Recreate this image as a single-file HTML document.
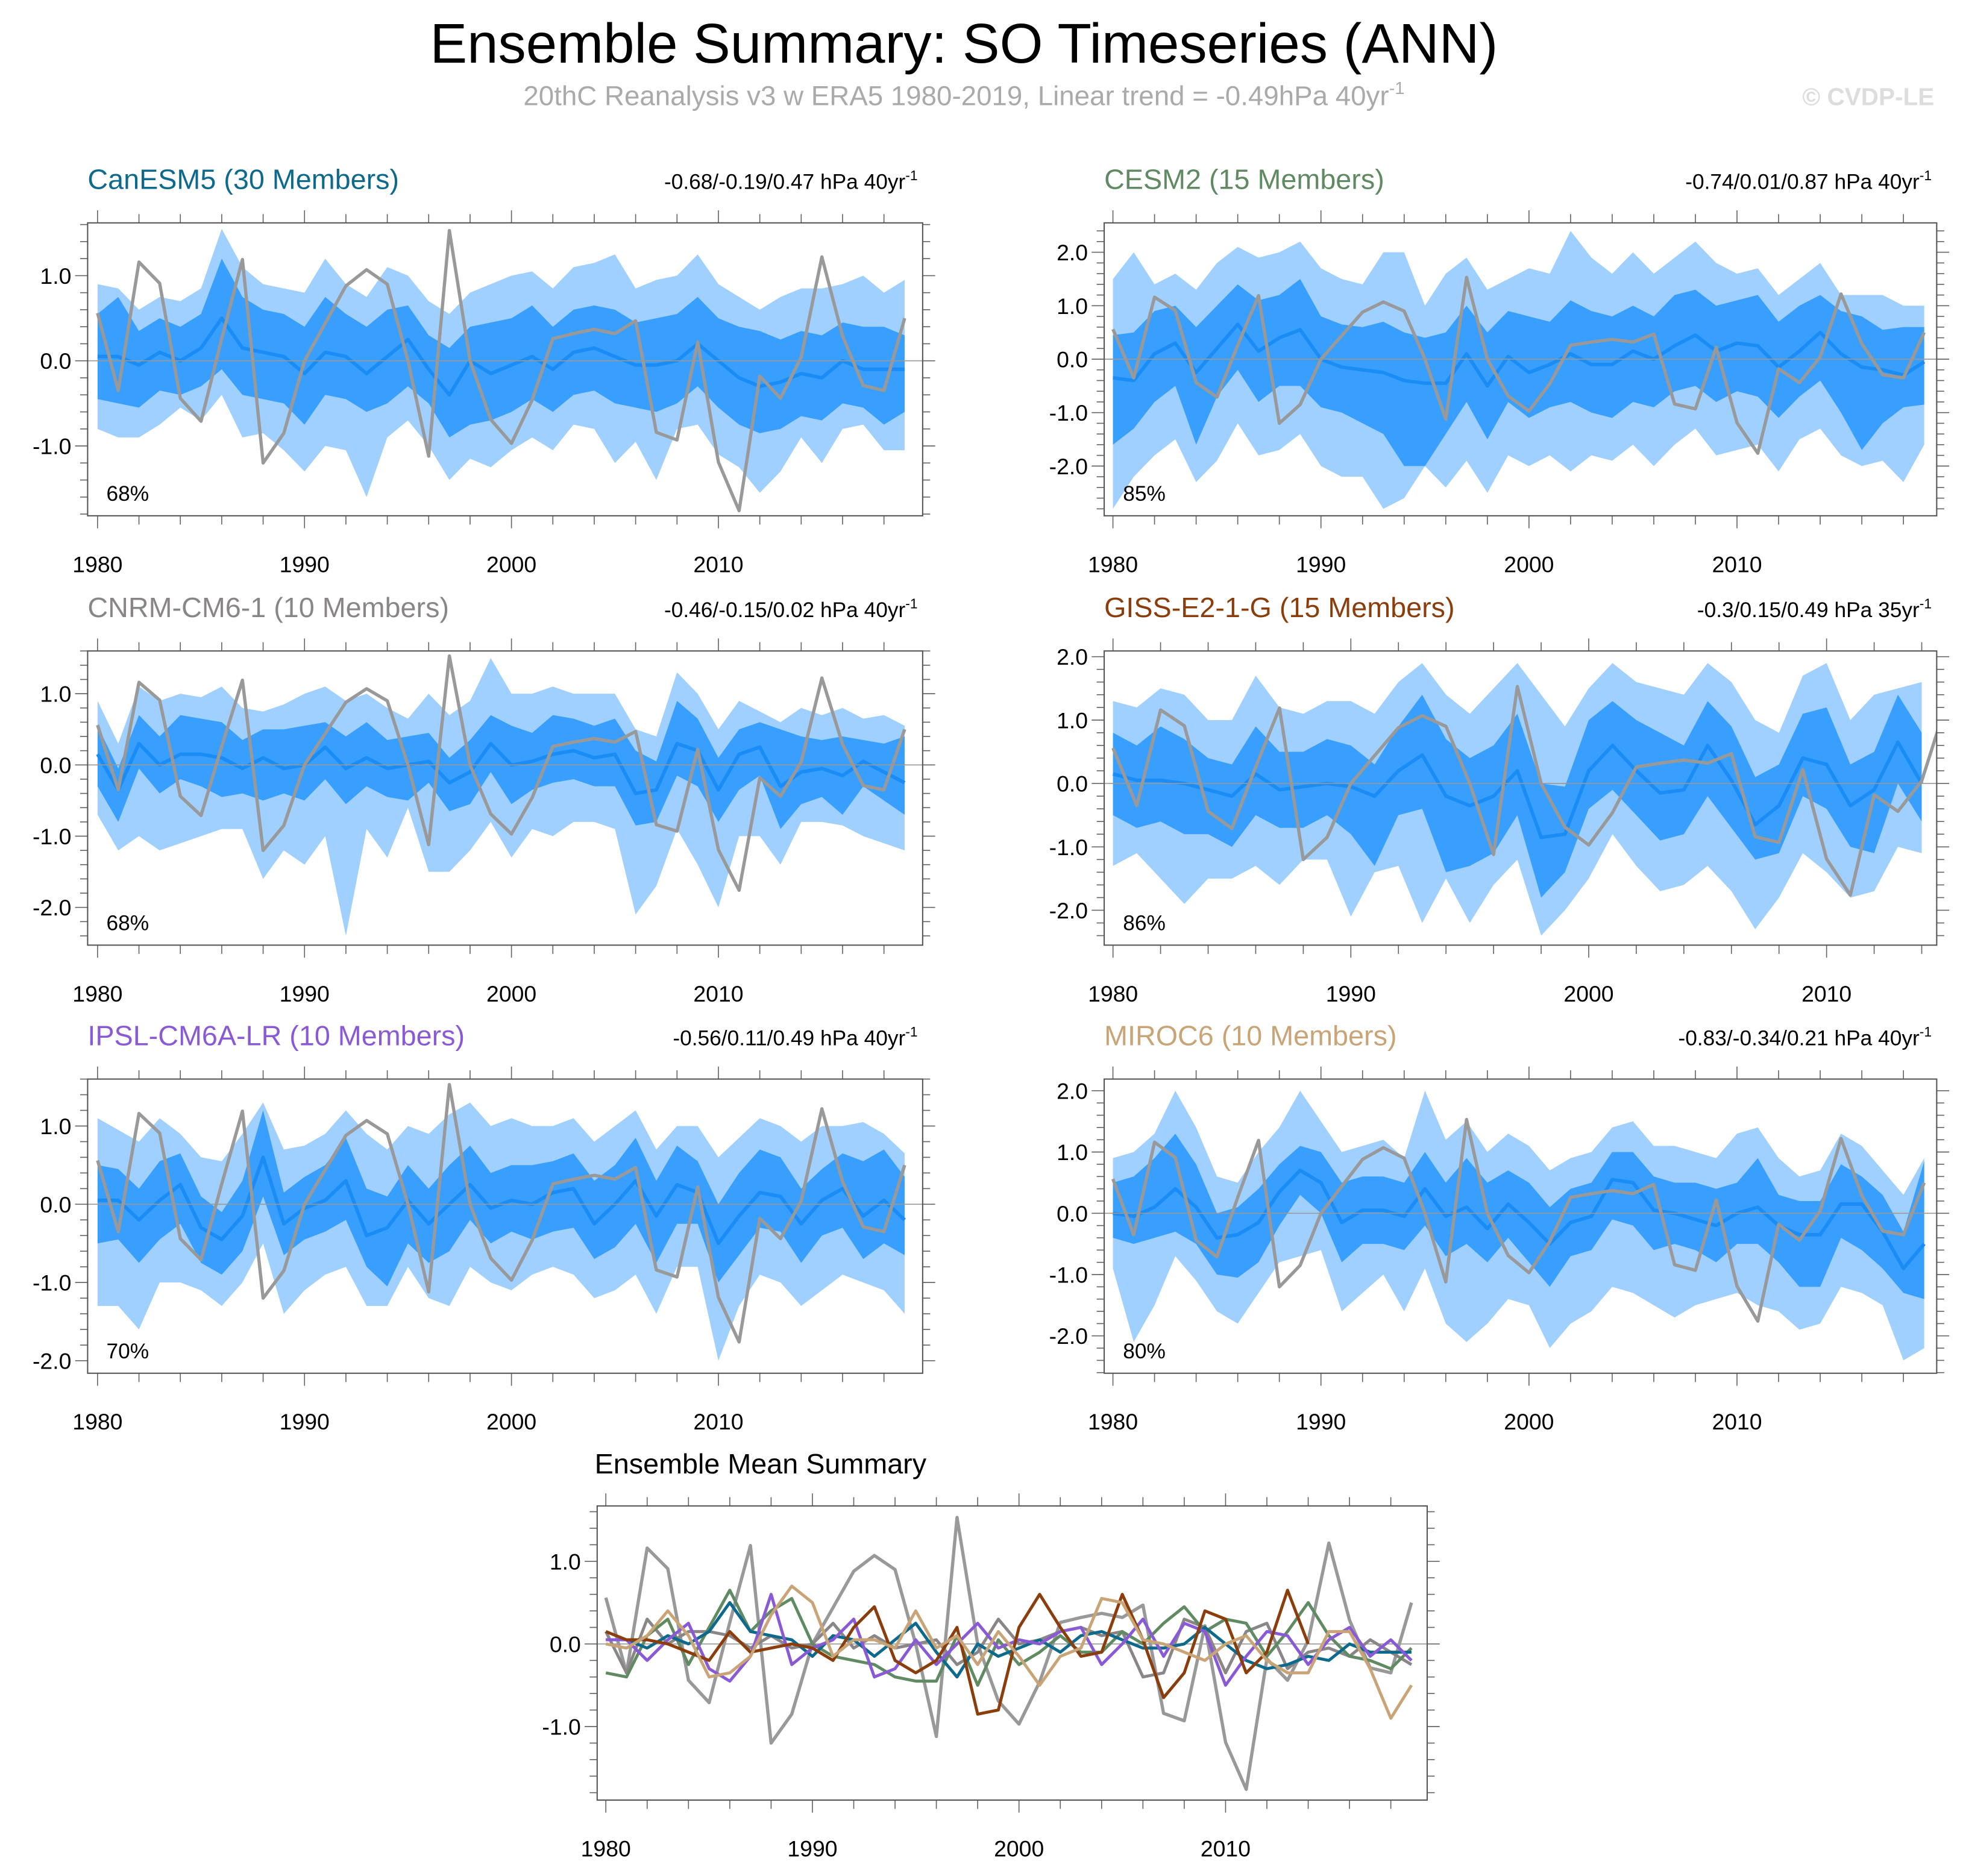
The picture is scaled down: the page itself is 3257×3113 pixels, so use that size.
<!DOCTYPE html>
<html><head><meta charset="utf-8">
<style>html,body{margin:0;padding:0;background:#fff;}svg{display:block;}text{font-family:"Liberation Sans",Arial,sans-serif;}</style>
</head><body>
<svg id="chart" width="3257" height="3113" viewBox="0 0 1568 1498.6" xmlns="http://www.w3.org/2000/svg">
<rect x="0" y="0" width="1568" height="1498.6" fill="#fff"/>
<text x="770" y="50" font-size="44.5" text-anchor="middle" fill="#000">Ensemble Summary: SO Timeseries (ANN)</text>
<text x="770" y="84" font-size="22" text-anchor="middle" fill="#aaa">20thC Reanalysis v3 w ERA5 1980-2019, Linear trend = -0.49hPa 40yr<tspan font-size="14" dy="-9">-1</tspan></text>
<text x="1545" y="84" font-size="19.5" font-weight="bold" text-anchor="end" fill="#ddd">© CVDP-LE</text>
<g id="plots"></g>
</svg>
<script>
const obs = [0.56,-0.35,1.16,0.91,-0.44,-0.71,0.26,1.19,-1.2,-0.85,0.0,0.44,0.88,1.07,0.9,0.0,-1.12,1.53,0.0,-0.69,-0.97,-0.46,0.26,0.32,0.37,0.32,0.47,-0.84,-0.93,0.22,-1.19,-1.76,-0.18,-0.44,0.04,1.22,0.29,-0.29,-0.35,0.5];

const canMean = [0.05,0.05,-0.05,0.1,0.0,0.15,0.5,0.15,0.1,0.05,-0.15,0.1,0.05,-0.15,0.05,0.25,-0.1,-0.4,0.0,-0.15,-0.05,0.05,-0.1,0.1,0.15,0.05,-0.05,-0.05,0.0,0.2,0.0,-0.2,-0.3,-0.25,-0.15,-0.2,0.0,-0.1,-0.1,-0.1];
const canDhi = [0.55,0.75,0.35,0.5,0.4,0.55,1.2,0.75,0.6,0.55,0.4,0.75,0.55,0.4,0.6,0.65,0.3,0.15,0.4,0.45,0.5,0.65,0.4,0.6,0.65,0.6,0.45,0.5,0.55,0.75,0.5,0.4,0.35,0.25,0.35,0.3,0.45,0.4,0.4,0.3];
const canDlo = [-0.45,-0.5,-0.55,-0.35,-0.4,-0.3,-0.1,-0.4,-0.45,-0.5,-0.75,-0.4,-0.45,-0.6,-0.5,-0.3,-0.5,-0.9,-0.75,-0.7,-0.6,-0.45,-0.6,-0.4,-0.35,-0.5,-0.55,-0.6,-0.5,-0.3,-0.55,-0.75,-0.85,-0.8,-0.65,-0.7,-0.5,-0.55,-0.75,-0.6];
const canLhi = [0.9,0.85,0.6,0.75,0.7,0.85,1.55,1.1,0.9,0.85,0.8,1.2,0.9,0.75,1.1,1.0,0.7,0.55,0.8,0.9,1.0,1.05,0.85,1.1,1.15,1.25,0.85,0.95,1.0,1.25,0.9,0.75,0.6,0.75,0.85,0.85,0.9,1.0,0.8,0.95];
const canLlo = [-0.8,-0.9,-0.9,-0.75,-0.55,-0.7,-0.4,-0.9,-0.85,-1.05,-1.3,-1.0,-1.05,-1.6,-0.9,-0.7,-1.0,-1.4,-1.15,-1.25,-1.05,-0.9,-1.05,-0.75,-0.8,-1.2,-0.95,-1.4,-0.8,-0.75,-1.1,-1.25,-1.55,-1.3,-0.9,-1.2,-0.8,-0.75,-1.05,-1.05];

const cesmMean = [-0.35,-0.4,0.1,0.3,-0.25,0.2,0.65,0.15,0.4,0.55,0.0,-0.15,-0.2,-0.25,-0.4,-0.45,-0.45,0.1,-0.5,0.05,-0.25,-0.1,0.1,-0.1,-0.1,0.15,0.0,0.25,0.45,0.15,0.3,0.25,-0.15,0.15,0.5,0.1,-0.15,-0.2,-0.3,-0.05];
const cesmDhi = [0.45,0.5,0.9,1.0,0.6,1.0,1.4,1.1,1.2,1.5,0.8,0.65,0.6,0.7,0.5,0.4,0.5,1.0,0.5,0.9,0.8,0.7,1.1,0.9,0.8,1.0,0.8,1.2,1.3,1.0,1.1,1.2,0.7,1.0,1.2,0.9,0.8,0.55,0.6,0.6];
const cesmDlo = [-1.6,-1.3,-0.8,-0.5,-1.6,-0.7,-0.2,-0.8,-0.5,-0.5,-0.9,-1.0,-1.2,-1.4,-2.0,-2.0,-1.4,-0.8,-1.5,-0.8,-1.1,-0.9,-0.8,-1.0,-1.1,-0.8,-0.9,-0.6,-0.5,-0.8,-0.6,-0.7,-1.1,-0.7,-0.4,-1.0,-1.7,-1.2,-0.9,-0.85];
const cesmLhi = [1.5,2.0,1.4,1.6,1.3,1.8,2.1,1.9,2.0,2.2,1.7,1.5,1.4,2.0,2.0,1.0,1.6,1.9,1.3,1.5,1.7,1.6,2.4,1.9,1.6,2.0,1.6,1.9,2.2,1.8,1.6,1.7,1.2,1.5,1.8,1.2,1.2,1.2,1.0,1.0];
const cesmLlo = [-2.8,-2.2,-1.8,-1.5,-2.3,-1.9,-1.2,-1.8,-1.7,-1.4,-2.0,-2.2,-2.2,-2.8,-2.6,-2.0,-2.4,-1.9,-2.5,-1.8,-2.0,-1.8,-2.1,-1.8,-1.9,-1.6,-2.0,-1.6,-1.3,-1.8,-1.7,-1.6,-2.1,-1.5,-1.3,-1.8,-2.0,-1.9,-2.3,-1.6];

const cnrmMean = [0.15,-0.35,0.3,0.0,0.15,0.15,0.1,-0.05,0.1,-0.05,0.0,0.25,-0.05,0.1,-0.05,0.0,0.05,-0.25,-0.1,0.3,0.0,0.05,0.15,0.2,0.1,0.15,-0.4,-0.35,0.3,0.2,-0.35,0.15,0.25,-0.3,-0.1,-0.05,-0.15,0.05,-0.1,-0.25];
const cnrmDhi = [0.55,-0.05,0.7,0.4,0.7,0.65,0.6,0.35,0.5,0.5,0.55,0.6,0.4,0.6,0.35,0.4,0.45,0.1,0.35,0.7,0.55,0.45,0.7,0.65,0.55,0.65,0.2,0.05,0.9,0.65,0.1,0.5,0.6,0.5,0.4,0.35,0.4,0.35,0.3,0.4];
const cnrmDlo = [-0.3,-0.8,-0.05,-0.4,-0.2,-0.3,-0.45,-0.4,-0.5,-0.4,-0.5,-0.2,-0.55,-0.3,-0.45,-0.5,-0.25,-0.65,-0.55,-0.1,-0.55,-0.35,-0.25,-0.2,-0.3,-0.3,-0.85,-0.8,-0.15,-0.3,-0.8,-0.35,-0.15,-0.9,-0.55,-0.45,-0.7,-0.3,-0.5,-0.7];
const cnrmLhi = [0.9,0.3,1.1,0.9,1.0,0.95,1.1,0.8,0.75,0.85,1.0,1.1,0.9,1.0,0.8,0.65,1.0,0.7,0.9,1.5,1.0,1.0,1.1,1.0,1.0,1.0,0.5,0.4,1.3,1.0,0.5,0.9,0.75,0.6,0.8,0.7,0.8,0.65,0.7,0.55];
const cnrmLlo = [-0.7,-1.2,-1.0,-1.2,-1.1,-1.0,-0.9,-0.9,-1.6,-1.2,-1.4,-1.0,-2.4,-0.9,-1.3,-0.6,-1.5,-1.5,-1.2,-0.8,-1.3,-0.9,-1.0,-0.8,-0.8,-0.9,-2.1,-1.7,-0.9,-1.4,-2.0,-1.0,-1.0,-1.4,-0.8,-0.8,-0.85,-1.0,-1.1,-1.2];

const gissMean = [0.15,0.05,0.05,0.0,-0.1,-0.2,0.15,-0.1,-0.05,0.0,-0.05,-0.2,0.2,0.45,-0.2,-0.35,-0.2,0.2,-0.85,-0.8,0.2,0.6,0.2,-0.15,-0.1,0.6,0.05,-0.65,-0.35,0.4,0.3,-0.35,-0.1,0.65,0.0];
const gissDhi = [0.8,0.6,0.9,0.7,0.4,0.3,0.9,0.5,0.5,0.7,0.6,0.3,0.9,1.4,0.7,0.4,0.6,1.1,0.0,-0.05,1.0,1.3,1.0,0.8,0.6,1.3,0.9,0.1,0.3,1.1,1.2,0.3,0.5,1.4,0.8];
const gissDlo = [-0.5,-0.7,-0.6,-0.8,-0.8,-1.0,-0.5,-0.7,-0.7,-0.5,-0.8,-1.3,-0.5,-0.4,-1.4,-1.3,-1.1,-0.5,-1.8,-1.4,-0.4,-0.1,-0.5,-0.9,-0.8,-0.2,-0.7,-1.2,-1.1,-0.2,-0.4,-1.0,-1.1,0.0,-0.6];
const gissLhi = [1.3,1.2,1.5,1.4,1.0,1.0,1.7,1.2,1.1,1.3,1.3,1.1,1.6,1.9,1.4,1.1,1.5,1.9,1.4,0.9,1.5,1.9,1.6,1.5,1.4,1.9,1.6,1.0,0.8,1.7,1.9,1.0,1.4,1.5,1.6];
const gissLlo = [-1.3,-1.1,-1.5,-1.9,-1.5,-1.5,-1.3,-1.6,-1.2,-1.2,-2.1,-1.4,-1.3,-2.2,-1.5,-2.2,-1.6,-1.2,-2.4,-2.0,-1.5,-0.8,-1.3,-1.7,-1.6,-1.3,-1.7,-2.3,-1.8,-1.1,-1.4,-1.8,-1.7,-1.0,-1.1];

const ipslMean = [0.05,0.05,-0.2,0.05,0.25,-0.3,-0.45,-0.15,0.6,-0.25,-0.05,0.05,0.3,-0.4,-0.3,0.05,-0.25,0.0,0.25,-0.05,0.05,0.0,0.15,0.2,-0.25,0.0,0.3,-0.15,0.25,0.15,-0.5,-0.15,0.15,0.1,-0.25,0.05,0.2,-0.15,0.05,-0.2];
const ipslDhi = [0.5,0.45,0.2,0.55,0.65,0.1,-0.1,0.3,1.2,0.15,0.35,0.5,0.85,0.2,0.1,0.5,0.2,0.5,0.75,0.4,0.5,0.5,0.55,0.65,0.3,0.5,0.85,0.3,0.75,0.55,0.0,0.4,0.7,0.6,0.2,0.45,0.65,0.55,0.7,0.35];
const ipslDlo = [-0.5,-0.45,-0.75,-0.45,-0.25,-0.75,-0.9,-0.6,0.1,-0.65,-0.45,-0.35,-0.2,-0.8,-1.05,-0.5,-0.75,-0.6,-0.2,-0.5,-0.35,-0.45,-0.35,-0.3,-0.7,-0.55,-0.25,-0.75,-0.25,-0.25,-1.0,-0.65,-0.3,-0.35,-0.75,-0.4,-0.3,-0.7,-0.5,-0.65];
const ipslLhi = [1.1,0.95,0.8,1.1,0.9,0.6,0.55,0.9,1.3,0.7,0.75,0.9,1.2,0.9,0.7,1.0,0.9,1.15,1.3,1.0,1.1,1.0,1.0,1.1,0.8,1.0,1.2,0.7,1.0,1.0,0.6,0.85,1.1,1.0,0.8,1.0,1.0,1.05,0.9,0.65];
const ipslLlo = [-1.3,-1.3,-1.6,-1.0,-1.0,-1.1,-1.3,-1.0,-0.5,-1.4,-1.1,-0.9,-0.8,-1.3,-1.3,-0.8,-1.2,-1.3,-0.8,-1.0,-1.1,-0.9,-0.8,-0.9,-1.2,-1.1,-0.9,-1.4,-0.8,-0.8,-2.0,-1.3,-0.9,-1.0,-1.3,-1.1,-0.9,-1.0,-1.1,-1.4];

const mirocMean = [0.0,-0.05,0.1,0.4,0.1,-0.4,-0.35,-0.15,0.35,0.7,0.5,-0.15,0.05,0.05,-0.05,0.4,-0.05,0.1,-0.25,0.15,-0.15,-0.5,-0.15,-0.05,0.55,0.5,0.05,0.0,-0.1,-0.2,0.0,0.1,-0.2,-0.35,-0.35,0.15,0.15,-0.3,-0.9,-0.5];
const mirocDhi = [0.5,0.6,0.9,1.3,0.8,0.0,0.1,0.4,0.8,1.1,1.0,0.5,0.6,0.6,0.5,1.0,0.5,0.9,0.5,0.7,0.5,0.1,0.4,0.5,1.0,1.0,0.6,0.5,0.5,0.4,0.5,0.9,0.3,0.2,0.2,0.8,0.6,0.3,-0.3,0.85];
const mirocDlo = [-0.4,-0.5,-0.4,-0.3,-0.5,-1.0,-1.05,-0.8,-0.2,0.3,0.0,-0.8,-0.5,-0.5,-0.6,-0.2,-0.7,-0.5,-0.8,-0.4,-0.8,-1.2,-0.7,-0.6,-0.1,-0.2,-0.6,-0.5,-0.6,-0.8,-0.5,-0.5,-0.8,-1.2,-1.2,-0.4,-0.6,-0.9,-1.3,-1.4];
const mirocLhi = [0.9,1.0,1.3,2.0,1.4,0.6,0.5,1.0,1.4,2.0,1.5,1.0,1.1,1.2,0.9,2.0,1.2,1.5,1.0,1.3,1.1,0.7,0.9,1.0,1.4,1.5,1.1,1.1,1.0,0.9,1.3,1.4,0.9,0.6,0.7,1.3,1.1,0.7,0.3,0.9];
const mirocLlo = [-0.9,-2.1,-1.5,-0.7,-1.1,-1.6,-1.8,-1.3,-0.8,-0.7,-0.6,-1.6,-1.3,-1.0,-1.6,-0.9,-1.8,-2.1,-1.8,-1.4,-1.5,-2.2,-1.8,-1.6,-1.2,-1.3,-1.5,-1.7,-1.5,-1.4,-1.3,-1.5,-1.6,-1.9,-1.8,-1.2,-1.3,-1.5,-2.4,-2.2];

const xTickLabels = ["1980","1990","2000","2010"];
const yTickLabels1 = ["-1.0","0.0","1.0"];
const yTickLabels2 = ["-2.0","-1.0","0.0","1.0","2.0"];
const modelNames = ["CanESM5 (30 Members)","CESM2 (15 Members)","CNRM-CM6-1 (10 Members)","GISS-E2-1-G (15 Members)","IPSL-CM6A-LR (10 Members)","MIROC6 (10 Members)"];
const trendLabels = ["-0.68/-0.19/0.47 hPa 40yr","-0.74/0.01/0.87 hPa 40yr","-0.46/-0.15/0.02 hPa 40yr","-0.3/0.15/0.49 hPa 35yr","-0.56/0.11/0.49 hPa 40yr","-0.83/-0.34/0.21 hPa 40yr"];
const pctLabels = ["68%","85%","68%","86%","70%","80%"];

const NS = "http://www.w3.org/2000/svg";
const root = document.getElementById("plots");
function mk(tag, attrs, parent){const e=document.createElementNS(NS,tag);for(const k in attrs)e.setAttribute(k,attrs[k]);(parent||root).appendChild(e);return e;}

const modelColors = ["#0d6a8c","#5f8a62","#8a8587","#8b3d0c","#8a5ad6","#c9a477"];
const panels = [
 {x0:70,x1:737,y0:178,y1:412,xmin:1979.52,xmax:2019.87,ymin:-1.82,ymax:1.62,ticks:[-1,0,1],tl:yTickLabels1,m:canMean,dh:canDhi,dl:canDlo,lh:canLhi,ll:canLlo},
 {x0:882,x1:1547,y0:178,y1:412,xmin:1979.58,xmax:2019.6,ymin:-2.93,ymax:2.55,ticks:[-2,-1,0,1,2],tl:yTickLabels2,m:cesmMean,dh:cesmDhi,dl:cesmDlo,lh:cesmLhi,ll:cesmLlo},
 {x0:70,x1:737,y0:520,y1:755,xmin:1979.52,xmax:2019.87,ymin:-2.53,ymax:1.6,ticks:[-2,-1,0,1],tl:["-2.0","-1.0","0.0","1.0"],m:cnrmMean,dh:cnrmDhi,dl:cnrmDlo,lh:cnrmLhi,ll:cnrmLlo},
 {x0:882,x1:1547,y0:520,y1:755,xmin:1979.63,xmax:2014.63,ymin:-2.55,ymax:2.09,ticks:[-2,-1,0,1,2],tl:yTickLabels2,m:gissMean,dh:gissDhi,dl:gissDlo,lh:gissLhi,ll:gissLlo},
 {x0:70,x1:737,y0:862,y1:1097,xmin:1979.52,xmax:2019.87,ymin:-2.16,ymax:1.6,ticks:[-2,-1,0,1],tl:["-2.0","-1.0","0.0","1.0"],m:ipslMean,dh:ipslDhi,dl:ipslDlo,lh:ipslLhi,ll:ipslLlo},
 {x0:882,x1:1547,y0:862,y1:1097,xmin:1979.58,xmax:2019.6,ymin:-2.61,ymax:2.19,ticks:[-2,-1,0,1,2],tl:yTickLabels2,m:mirocMean,dh:mirocDhi,dl:mirocDlo,lh:mirocLhi,ll:mirocLlo}
];

function axes(p, g){
  const sx=v=>p.x0+(v-p.xmin)/(p.xmax-p.xmin)*(p.x1-p.x0);
  const sy=v=>p.y1-(v-p.ymin)/(p.ymax-p.ymin)*(p.y1-p.y0);
  mk("line",{x1:p.x0,x2:p.x1,y1:sy(0),y2:sy(0),stroke:"#999","stroke-width":0.8},g);
  for(let yr=1980; yr<=p.xmax; yr+=2){
    const major = (yr%10===0);
    const L = major?10:7;
    const x=sx(yr);
    mk("line",{x1:x,x2:x,y1:p.y1,y2:p.y1+L,stroke:"#666","stroke-width":0.8},g);
    mk("line",{x1:x,x2:x,y1:p.y0,y2:p.y0-L,stroke:"#666","stroke-width":0.8},g);
  }
  xTickLabels.forEach((lab,i)=>{
    const yr=1980+10*i;
    const t=mk("text",{x:sx(yr),y:p.y1+45,"font-size":18,"text-anchor":"middle",fill:"#000"},g);
    
    
    t.textContent=lab;
  });
  const step=0.2;
  for(let v=Math.ceil(p.ymin/step)*step; v<=p.ymax+1e-9; v+=step){
    const r=Math.round(v*10)/10;
    const major=Math.abs(r-Math.round(r))<1e-6;
    const L=major?10:6;
    const y=sy(r);
    mk("line",{x1:p.x0,x2:p.x0-L,y1:y,y2:y,stroke:"#666","stroke-width":0.8},g);
    mk("line",{x1:p.x1,x2:p.x1+L,y1:y,y2:y,stroke:"#666","stroke-width":0.8},g);
  }
  p.ticks.forEach((v,i)=>{
    const t=mk("text",{x:p.x0-13,y:sy(v)+6.5,"font-size":18,"text-anchor":"end",fill:"#000"},g);
    
    
    t.textContent=p.tl[i];
  });
  return {sx,sy};
}

function band(lo,hi,sx,sy,fill,g,name){
  let d="";
  hi.forEach((v,i)=>{d+=(i?"L":"M")+sx(1980+i)+","+sy(v);});
  for(let i=lo.length-1;i>=0;i--) d+="L"+sx(1980+i)+","+sy(lo[i]);
  const e=mk("path",{d:d+"Z",fill:fill},g);
  
  
}
function line(vals,n,sx,sy,color,w,g,name){
  let d="";
  for(let i=0;i<Math.min(n,vals.length);i++) d+=(i?"L":"M")+sx(1980+i)+","+sy(vals[i]);
  const e=mk("path",{d:d,fill:"none",stroke:color,"stroke-width":w,"stroke-linejoin":"round"},g);
  
  
}

panels.forEach((p,k)=>{
  const g=mk("g",{});
  
  
  const clip=mk("clipPath",{id:"c"+k},g);
  mk("rect",{x:p.x0,y:p.y0,width:p.x1-p.x0,height:p.y1-p.y0},clip);
  const inner=mk("g",{"clip-path":"url(#c"+k+")"},g);
  const sx=v=>p.x0+(v-p.xmin)/(p.xmax-p.xmin)*(p.x1-p.x0);
  const sy=v=>p.y1-(v-p.ymin)/(p.ymax-p.ymin)*(p.y1-p.y0);
  band(p.ll,p.lh,sx,sy,"#9fd0ff",inner,"outer-spread-band");
  band(p.dl,p.dh,sx,sy,"#389ffe",inner,"inner-spread-band");
  axes(p,g);
  line(p.m,p.m.length,sx,sy,"#1a8cf5",2.8,inner,"ensemble-mean-line");
  line(obs,p.m.length+1,sx,sy,"#999",2.6,inner,"observed-line");
  mk("rect",{x:p.x0,y:p.y0,width:p.x1-p.x0,height:p.y1-p.y0,fill:"none",stroke:"#555","stroke-width":1},g);
  const t=mk("text",{x:p.x0,y:p.y0-27,"font-size":22.5,fill:modelColors[k]},g);
  
  
  t.textContent=modelNames[k];
  const tr=mk("text",{x:p.x1-4,y:p.y0-27,"font-size":17,"text-anchor":"end",fill:"#000"},g);
  
  
  tr.textContent=trendLabels[k];
  const sup=mk("tspan",{"font-size":11,dy:-7},tr);
  sup.textContent="-1";
  const pc=mk("text",{x:p.x0+15,y:p.y1-12,"font-size":17,fill:"#000"},g);
  
  
  pc.textContent=pctLabels[k];
});

(function(){
  const p={x0:477,x1:1140,y0:1203,y1:1438,xmin:1979.58,xmax:2019.76,ymin:-1.89,ymax:1.67,ticks:[-1,0,1],tl:yTickLabels1};
  const g=mk("g",{});
  
  
  const {sx,sy}=axes(p,g);
  line(obs,40,sx,sy,"#999",2.6,g,"observed-line");
  const means=[cnrmMean,cesmMean,canMean,ipslMean,gissMean,mirocMean];
  const cols=[modelColors[2],modelColors[1],modelColors[0],modelColors[4],modelColors[3],modelColors[5]];
  means.forEach((m,i)=>line(m,m.length,sx,sy,cols[i],2.4,g,"model-mean-line"));
  mk("rect",{x:p.x0,y:p.y0,width:p.x1-p.x0,height:p.y1-p.y0,fill:"none",stroke:"#555","stroke-width":1},g);
  const t=mk("text",{x:p.x0-2,y:p.y0-26,"font-size":22.5,fill:"#000"},g);
  
  
  t.textContent="Ensemble Mean Summary";
})();
</script>
</body></html>
